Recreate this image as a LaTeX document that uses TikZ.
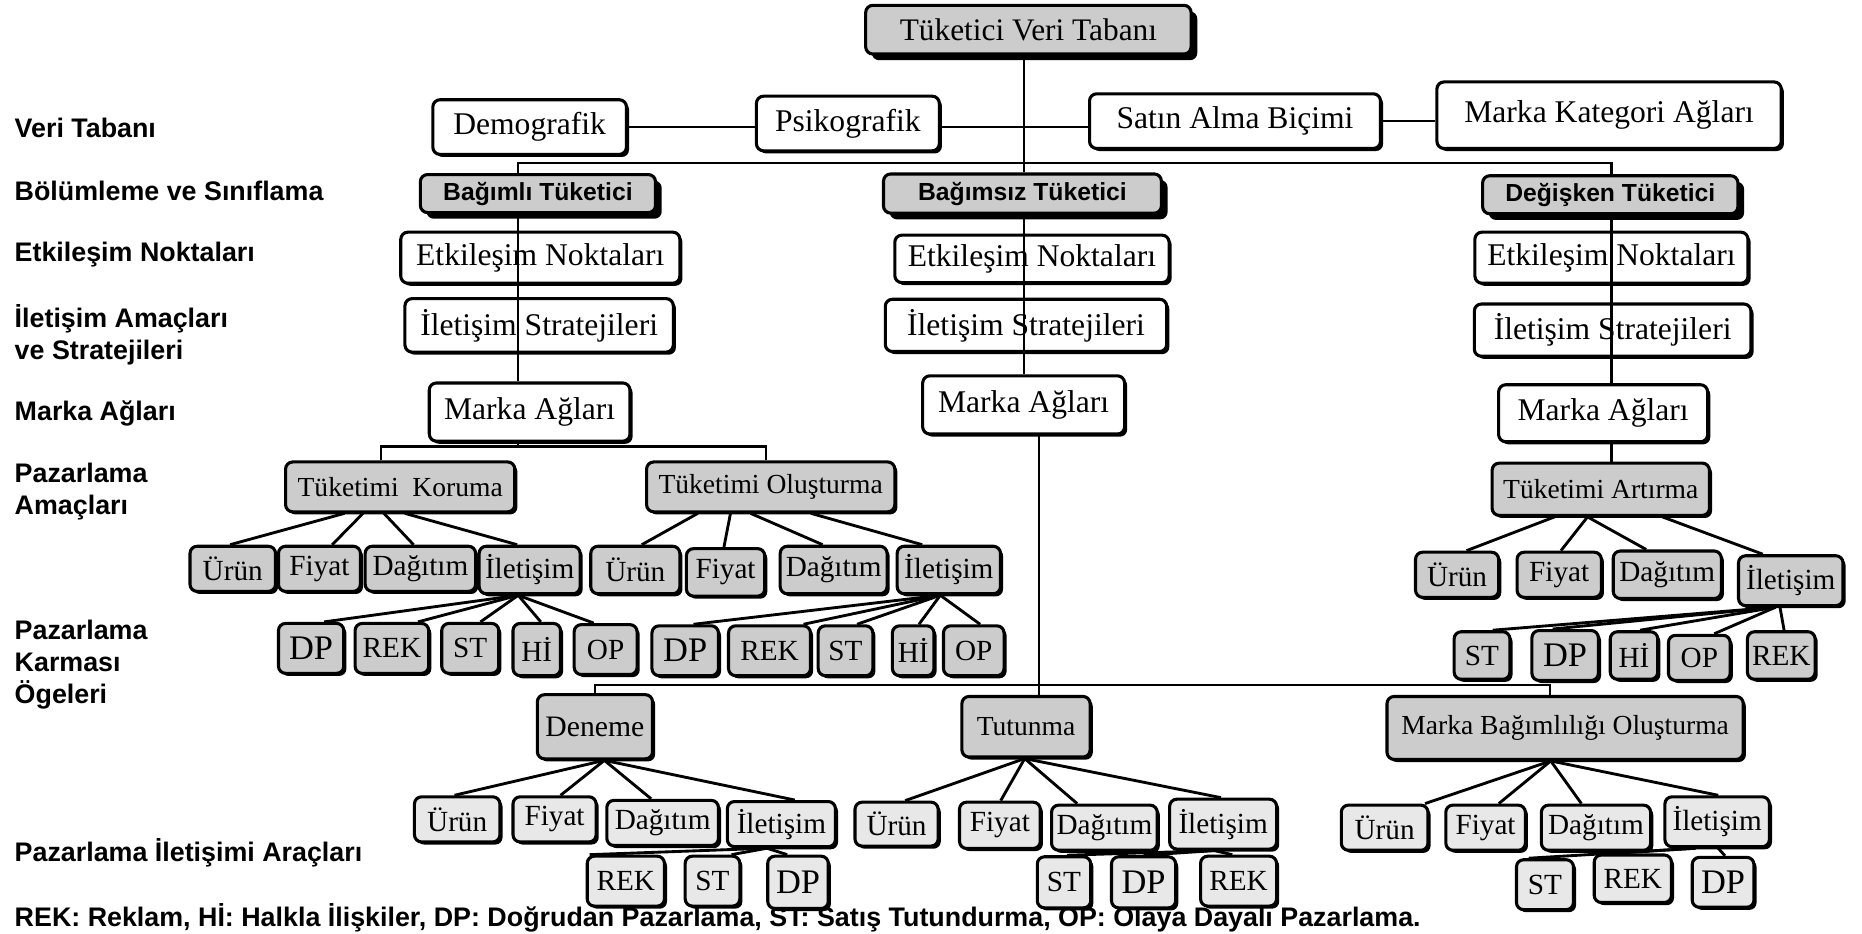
\documentclass[tikz,border=0pt]{standalone}
\usepackage{fontspec}
\setmainfont{Liberation Serif}
\newfontfamily\labfont{Liberation Sans}
\usetikzlibrary{calc,shadows}

% fan connector: from a point along the parent's bottom edge to a point along the child's top edge
\newcommand\fanline[4]{\draw[fanl] ($(#1.south west)!#2!(#1.south east)$) -- ($(#3.north west)!#4!(#3.north east)$);}

\tikzset{
  sz/.style 2 args={minimum width=#1*0.5pt, minimum height=#2*0.5pt},
  boxbase/.style={draw, line width=1.3pt, rounded corners=3pt, inner sep=0pt, align=center},
  shS/.style={general shadow={fill=black, shadow xshift=1.1pt, shadow yshift=-1.1pt}},
  shL/.style={general shadow={fill=black, shadow xshift=2.6pt, shadow yshift=-2.6pt}},
  wbox/.style={boxbase, shS, fill=white, font=\fontsize{13.3}{15}\selectfont},
  gbox/.style={boxbase, fill=black!20},
  segbox/.style={gbox, shL, font=\labfont\bfseries\fontsize{10.4}{12}\selectfont},
  goalbox/.style={gbox, shS, font=\fontsize{11.6}{13}\selectfont},
  mixbox/.style={gbox, shS, font=\fontsize{12.3}{14}\selectfont},
  lmixbox/.style={mixbox, fill=black!9},
  bigtxt/.style={font=\fontsize{14.5}{16}\selectfont},
  levlab/.style={anchor=west, align=left, inner sep=0pt, font=\labfont\bfseries\fontsize{11.3}{13.5}\selectfont},
  conn/.style={line width=0.9pt},
  fanl/.style={line width=1.2pt},
}

\begin{document}
\begin{tikzpicture}[x=0.5pt, y=-0.5pt]
\fill[white] (0,0) rectangle (1568,786);
\useasboundingbox (0,0) rectangle (1568,786);

% ---- level captions ----
\node[levlab] (L1) at (12,108) {Veri Tabanı};
\node[levlab] (L2) at (12,161) {Bölümleme ve Sınıflama};
\node[levlab] (L3) at (12,214) {Etkileşim Noktaları};
\node[levlab] (L4) at (12,282) {İletişim Amaçları\\ve Stratejileri};
\node[levlab] (L5) at (12,348) {Marka Ağları};
\node[levlab] (L6) at (12,414) {Pazarlama\\Amaçları};
\node[levlab] (L7) at (12,560) {Pazarlama\\Karması\\Ögeleri};
\node[levlab] (L8) at (12,718) {Pazarlama İletişimi Araçları};
\node[levlab, anchor=base west] (leg) at (12,780) {REK: Reklam, Hİ: Halkla İlişkiler, DP: Doğrudan Pazarlama, ST: Satış Tutundurma, OP: Olaya Dayalı Pazarlama.};

% ---- database ----
\node[gbox, shL, sz={274}{41}, font=\fontsize{13.2}{15}\selectfont] (t0) at (866,25) {Tüketici Veri Tabanı};
\node[wbox, sz={163}{46}] (demo) at (446,107) {Demografik};
\node[wbox, sz={154}{46}] (psiko) at (714,104) {Psikografik};
\node[wbox, sz={245}{46}] (satin) at (1040,102) {Satın Alma Biçimi};
\node[wbox, sz={290}{56}] (mkat) at (1355,97) {Marka Kategori Ağları};

% ---- segments ----
\node[segbox, sz={198}{32}] (bag) at (453,163) {Bağımlı Tüketici};
\node[segbox, sz={234}{33}] (bsz) at (861,163) {Bağımsız Tüketici};
\node[segbox, sz={215}{32}] (deg) at (1356,164) {Değişken Tüketici};

\node[wbox, sz={235}{43}] (e1) at (455,217) {Etkileşim Noktaları};
\node[wbox, sz={231}{40}] (e2) at (869,218) {Etkileşim Noktaları};
\node[wbox, sz={230}{43}] (e3) at (1357,217) {Etkileşim Noktaları};

\node[wbox, sz={226}{45}] (i1) at (454,274) {İletişim Stratejileri};
\node[wbox, sz={237}{44}] (i2) at (864,274) {İletişim Stratejileri};
\node[wbox, sz={233}{44}] (i3) at (1358,278) {İletişim Stratejileri};

\node[wbox, sz={169}{49}] (m1) at (446,347) {Marka Ağları};
\node[wbox, sz={170}{49}] (m2) at (862,341) {Marka Ağları};
\node[wbox, sz={176}{48}] (m3) at (1350,348) {Marka Ağları};

% ---- marketing goals ----
\node[goalbox, sz={193}{42}] (kor) at (337,410) {Tüketimi~~Koruma};
\node[goalbox, sz={209}{42}] (olu) at (649,410) {Tüketimi Oluşturma};
\node[goalbox, sz={183}{44}] (art) at (1348,412) {Tüketimi Artırma};

\node[mixbox, sz={72}{38}] (k_u) at (196,479) {Ürün};
\node[mixbox, sz={69}{38}] (k_f) at (269,479) {Fiyat};
\node[mixbox, sz={93}{38}] (k_d) at (354,479) {Dağıtım};
\node[mixbox, sz={85}{40}] (k_i) at (446,480) {İletişim};
\node[mixbox, sz={75}{40}] (o_u) at (535,480) {Ürün};
\node[mixbox, sz={66}{40}] (o_f) at (611,482) {Fiyat};
\node[mixbox, sz={90}{40}] (o_d) at (702,480) {Dağıtım};
\node[mixbox, sz={87}{40}] (o_i) at (799,480) {İletişim};
\node[mixbox, sz={70}{38}] (a_u) at (1227,484) {Ürün};
\node[mixbox, sz={71}{38}] (a_f) at (1313,484) {Fiyat};
\node[mixbox, sz={91}{40}] (a_d) at (1404,484) {Dağıtım};
\node[mixbox, sz={88}{42}] (a_i) at (1508,489) {İletişim};

\node[mixbox, bigtxt, sz={55}{42}] (k_dp) at (262,546) {DP};
\node[mixbox, sz={62}{42}] (k_rek) at (330,546) {REK};
\node[mixbox, sz={48}{42}] (k_st) at (396,546) {ST};
\node[mixbox, sz={40}{44}] (k_hi) at (452,547) {Hİ};
\node[mixbox, sz={53}{42}] (k_op) at (510,547) {OP};
\node[mixbox, bigtxt, sz={56}{42}] (o_dp) at (577,548) {DP};
\node[mixbox, sz={69}{42}] (o_rek) at (648,548) {REK};
\node[mixbox, sz={46}{42}] (o_st) at (712,548) {ST};
\node[mixbox, sz={35}{42}] (o_hi) at (769,548) {Hİ};
\node[mixbox, sz={51}{42}] (o_op) at (820,548) {OP};
\node[mixbox, sz={47}{40}] (a_st) at (1248,552) {ST};
\node[mixbox, bigtxt, sz={56}{42}] (a_dp) at (1318,552) {DP};
\node[mixbox, sz={40}{40}] (a_hi) at (1376,552) {Hİ};
\node[mixbox, sz={52}{38}] (a_op) at (1431,554) {OP};
\node[mixbox, sz={57}{40}] (a_rek) at (1500,552) {REK};

% ---- second goal row ----
\node[goalbox, sz={97}{54}, font=\fontsize{12.5}{14}\selectfont] (den) at (501,612) {Deneme};
\node[goalbox, sz={108}{51}] (tut) at (864,612) {Tutunma};
\node[goalbox, sz={300}{53}] (mbo) at (1318,613) {Marka Bağımlılığı Oluşturma};

\node[lmixbox, sz={72}{38}] (d_u) at (385,690) {Ürün};
\node[lmixbox, sz={70}{38}] (d_f) at (467,690) {Fiyat};
\node[lmixbox, sz={94}{38}] (d_d) at (558,693) {Dağıtım};
\node[lmixbox, sz={91}{38}] (d_i) at (658,694) {İletişim};
\node[lmixbox, sz={70}{37}] (t_u) at (755,694) {Ürün};
\node[lmixbox, sz={68}{39}] (t_f) at (842,695) {Fiyat};
\node[lmixbox, sz={89}{38}] (t_d) at (930,697) {Dağıtım};
\node[lmixbox, sz={90}{42}] (t_i) at (1030,694) {İletişim};
\node[lmixbox, sz={73}{38}] (b_u) at (1166,697) {Ürün};
\node[lmixbox, sz={67}{38}] (b_f) at (1251,697) {Fiyat};
\node[lmixbox, sz={92}{38}] (b_d) at (1344,697) {Dağıtım};
\node[lmixbox, sz={88}{42}] (b_i) at (1446,692) {İletişim};

\node[lmixbox, sz={65}{42}] (d_rek) at (527,742) {REK};
\node[lmixbox, sz={46}{42}] (d_st) at (600,742) {ST};
\node[lmixbox, bigtxt, sz={51}{44}] (d_dp) at (672,743) {DP};
\node[lmixbox, sz={45}{43}] (t_st) at (896,743) {ST};
\node[lmixbox, bigtxt, sz={54}{43}] (t_dp) at (963,743) {DP};
\node[lmixbox, sz={64}{42}] (t_rek) at (1043,742) {REK};
\node[lmixbox, sz={48}{42}] (b_st) at (1301,745) {ST};
\node[lmixbox, sz={65}{40}] (b_rek) at (1375,740) {REK};
\node[lmixbox, bigtxt, sz={52}{42}] (b_dp) at (1451,743) {DP};

% ---- tree lines ----
\coordinate (cL) at (436,137);
\coordinate (cM) at (862,137);
\coordinate (cR) at (1357,137);
\draw[conn] (demo.east) -- (demo.east -| psiko.west);
\draw[conn] (psiko.east |- demo.east) -- (satin.west |- demo.east);
\draw[conn] (satin.east) -- (satin.east -| mkat.west);
\draw[conn] (t0.south -| cM) -- (bsz.north -| cM);
\draw[conn] (bag.north -| cL) -- (cL) -- (cR) -- (deg.north -| cR);
\draw[conn] (bag.south -| cL) -- (m1.north -| cL);
\draw[conn] (bsz.south -| cM) -- (m2.north -| cM);
\draw[conn] (deg.south -| cR) -- (m3.north -| cR);

\coordinate (bL) at (321,376);
\coordinate (bR) at (645,376);
\draw[conn] (m1.south -| cL) -- (cL |- bL);
\draw[conn] (kor.north -| bL) -- (bL) -- (bR) -- (olu.north -| bR);
\draw[conn] (m3.south -| cR) -- (art.north -| cR);

\coordinate (gL) at (501,577);
\coordinate (gM) at (875,577);
\coordinate (gR) at (1305,577);
\draw[conn] (m2.south -| gM) -- (tut.north -| gM);
\draw[conn] (den.north -| gL) -- (gL) -- (gR) -- (mbo.north -| gR);

% ---- fans ----
\fanline{kor}{0.26}{k_u}{0.47}
\fanline{kor}{0.34}{k_f}{0.65}
\fanline{kor}{0.43}{k_d}{0.44}
\fanline{kor}{0.52}{k_i}{0.38}
\fanline{k_i}{0.39}{k_dp}{0.69}
\fanline{k_i}{0.39}{k_rek}{0.84}
\fanline{k_i}{0.39}{k_st}{0.67}
\fanline{k_i}{0.39}{k_hi}{0.58}
\fanline{k_i}{0.39}{k_op}{0.32}

\fanline{olu}{0.21}{o_u}{0.57}
\fanline{olu}{0.34}{o_f}{0.48}
\fanline{olu}{0.42}{o_d}{0.40}
\fanline{olu}{0.66}{o_i}{0.25}
\fanline{o_i}{0.42}{o_dp}{0.62}
\fanline{o_i}{0.42}{o_rek}{0.90}
\fanline{o_i}{0.42}{o_st}{0.70}
\fanline{o_i}{0.42}{o_hi}{0.63}
\fanline{o_i}{0.42}{o_op}{0.60}

\fanline{art}{0.29}{a_u}{0.61}
\fanline{art}{0.44}{a_f}{0.52}
\fanline{art}{0.44}{a_d}{0.31}
\fanline{art}{0.78}{a_i}{0.24}
\fanline{a_i}{0.36}{a_st}{0.68}
\fanline{a_i}{0.36}{a_dp}{0.32}
\fanline{a_i}{0.36}{a_hi}{0.62}
\fanline{a_i}{0.36}{a_op}{0.73}
\fanline{a_i}{0.40}{a_rek}{0.54}

\fanline{den}{0.58}{d_u}{0.47}
\fanline{den}{0.58}{d_f}{0.57}
\fanline{den}{0.58}{d_d}{0.40}
\fanline{den}{0.58}{d_i}{0.62}
\fanline{d_i}{0.37}{d_rek}{0.05}
\fanline{d_i}{0.37}{d_st}{0.83}
\fanline{d_i}{0.37}{d_dp}{0.33}

\fanline{tut}{0.49}{t_u}{0.60}
\fanline{tut}{0.49}{t_f}{0.51}
\fanline{tut}{0.49}{t_d}{0.25}
\fanline{tut}{0.49}{t_i}{0.48}
\fanline{t_i}{0.42}{t_st}{0.55}
\fanline{t_i}{0.42}{t_dp}{0.50}
\fanline{t_i}{0.42}{t_rek}{0.42}

\fanline{mbo}{0.46}{b_u}{0.95}
\fanline{mbo}{0.46}{b_f}{0.66}
\fanline{mbo}{0.46}{b_d}{0.37}
\fanline{mbo}{0.46}{b_i}{0.51}
\fanline{b_i}{0.30}{b_st}{0.23}
\fanline{b_i}{0.30}{b_rek}{0.23}
\fanline{b_i}{0.51}{b_dp}{0.53}
\end{tikzpicture}
\end{document}
